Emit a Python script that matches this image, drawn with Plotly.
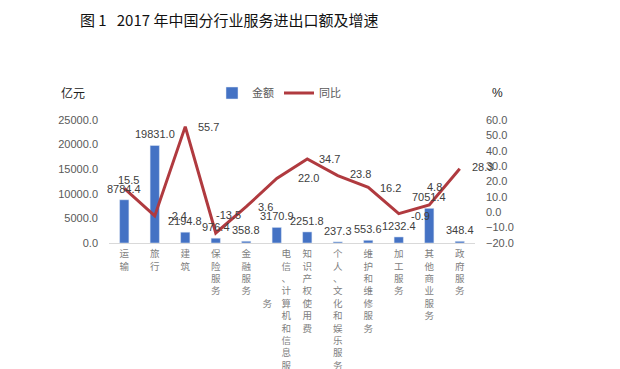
import plotly.graph_objects as go

categories = ["运输", "旅行", "建筑", "保险服务", "金融服务", "电信、计算机和信息服务",
              "知识产权使用费", "个人、文化和娱乐服务", "维护和维修服务", "加工服务",
              "其他商业服务", "政府服务"]
amount = [8784.4, 19831.0, 2194.8, 976.4, 358.8, 3170.9, 2251.8, 237.3, 553.6, 1232.4, 7051.4, 348.4]
growth = [15.5, -2.4, 55.7, -13.5, 3.6, 22.0, 34.7, 23.8, 16.2, -0.9, 4.8, 28.3]
left_ticks = [0, 5000, 10000, 15000, 20000, 25000]
right_ticks = [-20, -10, 0, 10, 20, 30, 40, 50, 60]

# label placement style (px offsets) for the growth labels
g_shift = [(4, 8), (23, 0), (23, 0), (13, 18), (19, 0), (32, 0), (22, 0), (23, 2),
           (22, -1), (22, -2), (5, 18), (23, 2)]

BLUE = "#4472C4"
RED = "#B03A3F"
GREY = "#595959"
LBL = "#404040"
CJK = "Noto Sans CJK SC"
NUM = "Liberation Sans"


def vertical(label):
    """Stack characters vertically. A label longer than 10 characters wraps its
    overflow into a second column on the left (as the source chart does)."""
    if len(label) <= 10:
        return "<br>".join(label)
    main, extra = label[:10], label[10:]
    lines = []
    for k, ch in enumerate(main):
        left = extra[k - 4] if 4 <= k < 4 + len(extra) else "\u3000"
        lines.append(left + "\u3000" + ch)
    return "<br>".join(lines)


tick_text = [vertical(c) for c in categories]

# page has an 8px body margin; figure coords = screen coords - 8
W, H = 612, 361
PL, PR, PT, PB = 101, 467, 112, 235

fig = go.Figure()
fig.add_trace(go.Bar(x=categories, y=amount, name="金额", marker_color=BLUE,
                     width=0.305, yaxis="y"))
fig.add_trace(go.Scatter(x=categories, y=growth, name="同比", mode="lines",
                         line=dict(color=RED, width=3), yaxis="y2"))

ph = PB - PT


def py(screen_y):
    return (PB + 8 - screen_y) / ph


ann = []
for c, v in zip(categories, amount):
    ann.append(dict(x=c, y=v, xref="x", yref="y", text=f"{v:.1f}", showarrow=False,
                    yanchor="bottom", yshift=3, font=dict(family=NUM, size=11, color=LBL)))
for c, v, (dx, dy) in zip(categories, growth, g_shift):
    ann.append(dict(x=c, y=v, xref="x", yref="y2", text=f"{v:.1f}", showarrow=False,
                    xanchor="center", yanchor="middle", xshift=dx, yshift=dy,
                    font=dict(family=NUM, size=11, color=LBL)))
ann.append(dict(x=0.0, y=py(92), xref="paper", yref="paper", text="亿元",
                showarrow=False, xanchor="center", yanchor="middle", xshift=-36,
                font=dict(family=CJK, size=12, color="#222")))
ann.append(dict(x=1.0, y=py(93), xref="paper", yref="paper", text="%",
                showarrow=False, xanchor="center", yanchor="middle", xshift=22,
                font=dict(family=NUM, size=12, color="#222")))

fig.update_layout(
    width=W, height=H,
    margin=dict(l=PL, r=W - PR, t=PT, b=H - PB, autoexpand=False),
    paper_bgcolor="white", plot_bgcolor="white",
    title=dict(text="图\u00a01\u00a0\u00a0\u00a02017\u00a0年中国分行业服务进出口额及增速",
               x=72 / W, xanchor="left", xref="container",
               y=1 - 13 / H, yanchor="middle", yref="container", automargin=False,
               font=dict(family=CJK, size=15, color="#111")),
    bargap=0.7,
    showlegend=True,
    legend=dict(orientation="h", x=(212 - 109) / (PR - PL), y=py(93),
                xanchor="left", yanchor="middle", bgcolor="rgba(0,0,0,0)",
                font=dict(family=CJK, size=11, color=GREY), itemwidth=30),
    xaxis=dict(tickmode="array", tickvals=categories, ticktext=tick_text, automargin=False,
               range=[-0.5, len(categories) - 0.5],
               tickangle=0, showline=True, linecolor="#d9d9d9", linewidth=1,
               showgrid=False, ticks="", ticklabelstandoff=2,
               tickfont=dict(family=CJK, size=9.5, color="#7f7f7f")),
    yaxis=dict(range=[0, 25000], tickvals=left_ticks, tickformat=".1f", showgrid=False,
               zeroline=False, showline=False, ticks="", ticklabelstandoff=10, automargin=False,
               tickfont=dict(family=NUM, size=11, color=GREY)),
    yaxis2=dict(range=[-20, 60], tickvals=right_ticks, tickformat=".1f", overlaying="y",
                side="right", showgrid=False, zeroline=False, showline=False, ticks="",
                ticklabelstandoff=10, automargin=False,
                tickfont=dict(family=NUM, size=11, color=GREY)),
    annotations=ann,
)

fig.write_html("out.html")
